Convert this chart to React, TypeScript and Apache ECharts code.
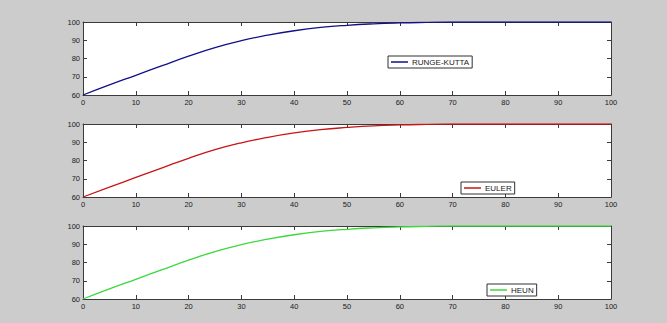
import React, { useEffect, useRef } from "react";
import * as echarts from "echarts";

const xValues = [0, 5, 10, 15, 20, 25, 30, 35, 40, 45, 50, 55, 60, 65, 70, 75, 80, 85, 90, 95, 100];
const rungeKutta = [60, 65.5, 70.8, 76.1, 81.3, 86.0, 89.8, 92.8, 95.2, 97.0, 98.2, 99.0, 99.5, 99.8, 100, 100, 100, 100, 100, 100, 100];
const euler = [60, 65.4, 70.7, 76.0, 81.2, 85.9, 89.7, 92.7, 95.1, 96.9, 98.1, 99.0, 99.5, 99.8, 100, 100, 100, 100, 100, 100, 100];
const heun = [60, 65.5, 70.8, 76.1, 81.3, 86.0, 89.8, 92.8, 95.2, 97.0, 98.2, 99.0, 99.5, 99.8, 100, 100, 100, 100, 100, 100, 100];
const seriesNames = ["RUNGE-KUTTA", "EULER", "HEUN"];
const seriesColors = ["#101088", "#c81414", "#3cd83c"];
const xTicks = [0, 10, 20, 30, 40, 50, 60, 70, 80, 90, 100];
const yTicks = [60, 70, 80, 90, 100];

export default function App() {
  const ref = useRef<HTMLDivElement>(null);
  useEffect(() => {
    if (!ref.current) return;
    const chart = echarts.init(ref.current, null, { renderer: "svg" });
    const allData = [rungeKutta, euler, heun];
    const tops = [22, 124, 226];
    const gridH = 73;
    const axisColor = "#3a3a3a";
    const labelStyle = { fontSize: 7.5, color: "#202020", fontFamily: "Liberation Sans, Arial, sans-serif" };
    const grids: any[] = [];
    const xAxes: any[] = [];
    const yAxes: any[] = [];
    const series: any[] = [];
    const legends: any[] = [];
    const legendPos = [
      { left: 388, top: 56 },
      { left: 461, top: 182 },
      { left: 487, top: 284 },
    ];
    for (let i = 0; i < 3; i++) {
      grids.push({ left: 83, right: 56, top: tops[i], height: gridH, backgroundColor: "#ffffff", show: true, borderWidth: 0 });
      const xBase = {
        type: "value",
        gridIndex: i,
        min: xTicks[0],
        max: xTicks[xTicks.length - 1],
        interval: 10,
        splitLine: { show: false },
        axisLine: { show: true, onZero: false, lineStyle: { color: axisColor, width: 1 } },
        axisTick: { show: true, inside: true, length: 4, lineStyle: { color: axisColor } },
      };
      xAxes.push({ ...xBase, position: "bottom", axisLabel: { ...labelStyle, margin: 3 } });
      xAxes.push({ ...xBase, position: "top", axisLabel: { show: false } });
      const yBase = {
        type: "value",
        gridIndex: i,
        min: yTicks[0],
        max: yTicks[yTicks.length - 1],
        interval: 10,
        splitLine: { show: false },
        axisLine: { show: true, onZero: false, lineStyle: { color: axisColor, width: 1 } },
        axisTick: { show: true, inside: true, length: 4, lineStyle: { color: axisColor } },
      };
      yAxes.push({ ...yBase, position: "left", axisLabel: { ...labelStyle, margin: 3 } });
      yAxes.push({ ...yBase, position: "right", axisLabel: { show: false } });
      series.push({
        name: seriesNames[i],
        type: "line",
        xAxisIndex: i * 2,
        yAxisIndex: i * 2,
        data: xValues.map((x, k) => [x, allData[i][k]]),
        showSymbol: false,
        symbol: "none",
        smooth: true,
        lineStyle: { color: seriesColors[i], width: 1.3 },
        itemStyle: { color: seriesColors[i] },
        z: 1,
      });
      legends.push({
        data: [seriesNames[i]],
        left: legendPos[i].left,
        top: legendPos[i].top,
        orient: "horizontal",
        backgroundColor: "#ffffff",
        borderColor: "#303030",
        borderWidth: 1,
        padding: [2, 3, 2, 3],
        icon: "rect",
        itemWidth: 17,
        itemHeight: 1.5,
        itemGap: 4,
        selectedMode: false,
        textStyle: { fontSize: 8, color: "#202020", fontFamily: "Liberation Sans, Arial, sans-serif", padding: [0, 0, 0, -1] },
      });
    }
    chart.setOption({
      animation: false,
      backgroundColor: "#cccccc",
      grid: grids,
      xAxis: xAxes,
      yAxis: yAxes,
      series,
      legend: legends,
    });
    return () => chart.dispose();
  }, []);
  return <div ref={ref} style={{ position: "fixed", left: 0, top: 0, width: 667, height: 323 }} />;
}
